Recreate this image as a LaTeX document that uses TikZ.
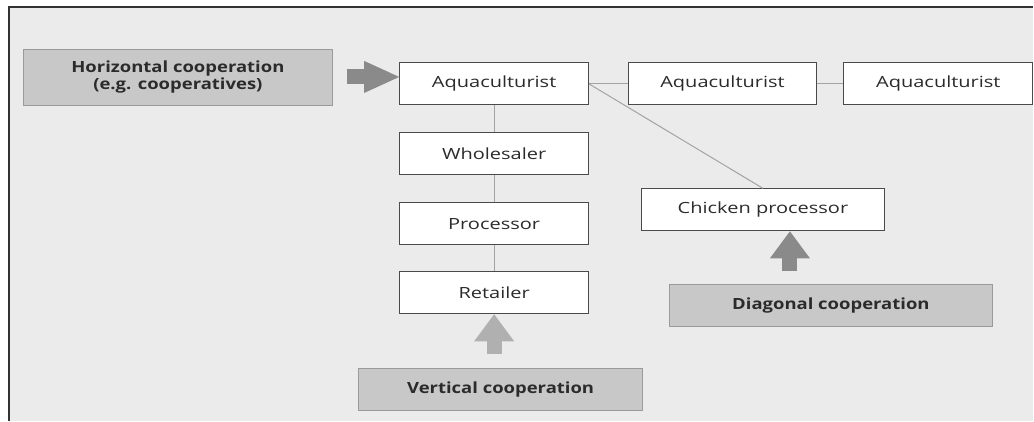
\documentclass[tikz,border=0pt]{standalone}
\usepackage{fontspec}
\setmainfont[UprightFeatures={FakeStretch=1.3}, BoldFeatures={FakeStretch=1.2}]{Open Sans}
\usetikzlibrary{shapes,arrows,arrows.meta}
\definecolor{paper}{HTML}{EBEBEB}
\definecolor{boxline}{HTML}{4A4A4A}
\definecolor{coopfill}{HTML}{C8C8C8}
\definecolor{coopline}{HTML}{9A9A9A}
\definecolor{linkgray}{HTML}{A3A3A3}
\definecolor{darkarrow}{HTML}{8A8A8A}
\definecolor{lightarrow}{HTML}{B0B0B0}
\definecolor{ink}{HTML}{2B2B2B}
\newcommand{\boxfont}{\fontsize{15.4}{16.5}\selectfont}
\tikzstyle{block} = [draw=boxline, fill=white, rectangle, line width=1pt,
minimum height=42pt, minimum width=189pt, inner sep=0pt, text=ink, font=\boxfont]
\tikzstyle{coop} = [draw=coopline, fill=coopfill, rectangle, line width=0.8pt,
minimum height=42pt, inner sep=0pt, text=ink, font=\boxfont\bfseries]
\tikzstyle{link} = [draw=linkgray, line width=1pt]
\tikzstyle{fat} = [line width=15pt, -{Triangle[width=40pt,length=27pt,line width=0pt]}]

\begin{document}
\begin{tikzpicture}[x=1pt, y=-1pt, node distance=70pt]

% frame of the figure
\fill [white] (0,0) rectangle (1034,421);
\fill [paper] (9,7) rectangle (1034,421);
\draw [black!80, line width=1.5pt] (9,421) -- (9,7) -- (1034,7);

% the chain, starting with the first aquaculturist
\node [block] (aqua1) at (494.5,84) {Aquaculturist};
\node [block, right of=aqua1, node distance=228.5pt] (aqua2) {Aquaculturist};
\node [block, right of=aqua2, node distance=216pt] (aqua3) {Aquaculturist};
\node [block, below of=aqua1] (whole) {Wholesaler};
\node [block, below of=whole] (proc) {Processor};
\node [block, below of=proc, node distance=69pt] (retail) {Retailer};
\node [block, minimum width=243pt] (chick) at (763.5,210) {Chicken processor};

% the three kinds of cooperation
\node [coop, minimum width=310pt, minimum height=56pt, align=center] (hcoop) at (178,77)
  {Horizontal cooperation\\(e.g. cooperatives)};
\node [coop, minimum width=284pt] (vcoop) at (501,390) {Vertical cooperation};
\node [coop, minimum width=323pt] (dcoop) at (831.5,306) {Diagonal cooperation};

% thin lines between the partners
\draw [link] (aqua1) -- (aqua2);
\draw [link] (aqua2) -- (aqua3);
\draw [link] (aqua1) -- (whole);
\draw [link] (whole) -- (proc);
\draw [link] (proc) -- (retail);
\draw [link] (aqua1.east) -- (chick.north);

% big arrows from the labels
\draw [fat, darkarrow, shorten <=14pt, -{Triangle[width=32pt,length=35pt,line width=0pt]}]
  (hcoop.east) -- (hcoop.east -| aqua1.west);
\draw [fat, lightarrow, shorten <=14pt] (retail.south |- vcoop.north) -- (retail.south);
\coordinate (dtip) at ([xshift=27pt]chick.south);
\draw [fat, darkarrow, shorten <=13pt] (dtip |- dcoop.north) -- (dtip);
\end{tikzpicture}
\end{document}
